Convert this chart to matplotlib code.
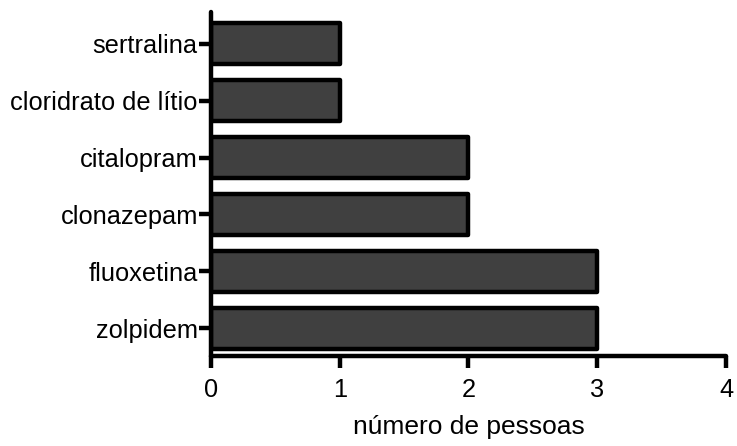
import matplotlib.pyplot as plt

plt.rcParams["font.family"] = ["Liberation Sans", "DejaVu Sans"]

medicamentos = ["zolpidem", "fluoxetina", "clonazepam", "citalopram",
                "cloridrato de lítio", "sertralina"]
pessoas = [3, 3, 2, 2, 1, 1]
x_ticks = [0, 1, 2, 3, 4]

fig = plt.figure(figsize=(7.37, 4.46), dpi=100)
ax = fig.add_axes([0.2863, 0.2018, 0.6987, 0.7712])

bars = ax.barh(range(len(medicamentos)), pessoas, height=0.72,
               color="#404040", edgecolor="black", linewidth=3.2)
for b in bars:
    b.set_joinstyle("round")

ax.set_xlim(0, 4)
ax.set_ylim(-0.49, 5.56)
ax.set_xticks(x_ticks)
ax.set_yticks(range(len(medicamentos)))
ax.set_yticklabels(medicamentos)

for s in ["top", "right"]:
    ax.spines[s].set_visible(False)
for s in ["left", "bottom"]:
    ax.spines[s].set_linewidth(3.2)
    ax.spines[s].set_capstyle("round")

ax.tick_params(axis="both", width=3.2, length=8.5, labelsize=18.3, direction="out")
for t in ax.xaxis.get_ticklines() + ax.yaxis.get_ticklines():
    t.set_solid_capstyle("round")
ax.tick_params(axis="y", pad=1)
ax.tick_params(axis="x", pad=7)
ax.set_xlabel("número de pessoas", fontsize=19, labelpad=10)

fig.savefig("out.png", dpi=100)
